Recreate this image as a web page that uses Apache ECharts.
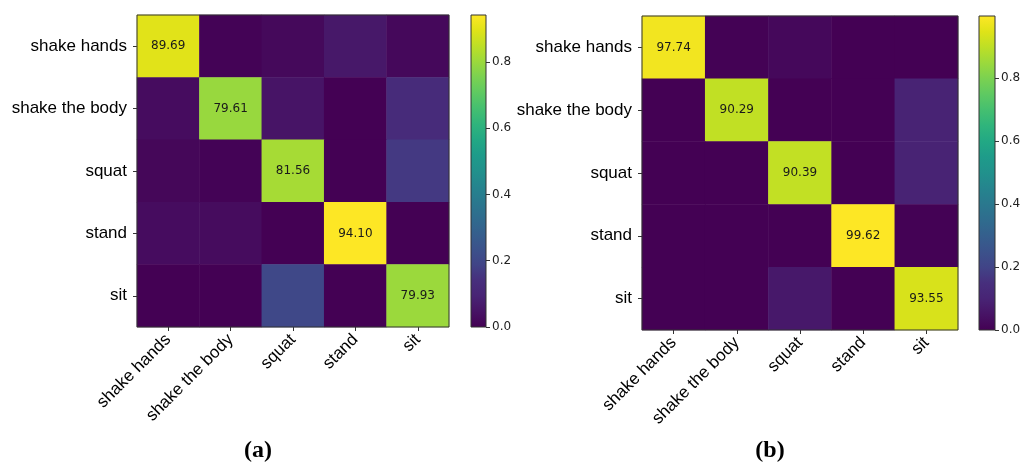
<!DOCTYPE html>
<html>
<head>
<meta charset="utf-8">
<title>Confusion matrices</title>
<script src="https://cdn.jsdelivr.net/npm/echarts@6/dist/echarts.min.js"></script>
<style>
  html, body { margin: 0; padding: 0; background: #fff; }
  #chart { width: 1024px; height: 464px; }
</style>
</head>
<body>
<div id="chart"></div>
<script>
// Class names (rows: true class, columns: predicted class)
const categories = ['shake hands', 'shake the body', 'squat', 'stand', 'sit'];

// (a) normalised confusion matrix
const matrixA = [
  [0.8969, 0.005, 0.020, 0.060, 0.0181],
  [0.030, 0.7961, 0.050, 0.000, 0.1239],
  [0.015, 0.005, 0.8156, 0.000, 0.1644],
  [0.030, 0.029, 0.000, 0.9410, 0.000],
  [0.000, 0.000, 0.2007, 0.000, 0.7993]
];

// (b) normalised confusion matrix
const matrixB = [
  [0.9774, 0.002, 0.0206, 0.000, 0.000],
  [0.000, 0.9029, 0.000, 0.000, 0.0971],
  [0.000, 0.000, 0.9039, 0.000, 0.0961],
  [0.000, 0.000, 0.000, 0.9962, 0.0038],
  [0.000, 0.000, 0.0645, 0.000, 0.9355]
];

const panelLabels = ['(a)', '(b)'];
const colorbarTicks = [0, 0.2, 0.4, 0.6, 0.8];

// viridis colour map, sampled every 0.05
const viridis = [
  '#440154', '#471365', '#482475', '#472f7d', '#414487', '#3b528b', '#355f8d',
  '#2f6c8e', '#2a788e', '#25848e', '#21918c', '#1e9b8a', '#22a884', '#2fb47c',
  '#44bf70', '#5ec962', '#7ad151', '#9bd93c', '#bddf26', '#dfe318', '#fde725'
];

function toCells(m) {
  const out = [];
  m.forEach((row, r) => row.forEach((v, c) => out.push([c, r, v])));
  return out;
}
function maxOf(m) { return Math.max.apply(null, m.flat()); }

const maxA = maxOf(matrixA);
const maxB = maxOf(matrixB);

const gradient = new echarts.graphic.LinearGradient(0, 1, 0, 0,
  viridis.map((c, i) => ({ offset: i / (viridis.length - 1), color: c })));

const labelFont = 'Liberation Sans, Arial, sans-serif';
const smallFont = 'DejaVu Sans, sans-serif';
const frame = { show: true, borderColor: '#333', borderWidth: 1, backgroundColor: 'transparent', z: 5 };

const layout = [
  { heat: { left: 137, top: 15, width: 312, height: 312 }, bar: { left: 471, top: 15, width: 15, height: 312 }, title: [258, 451] },
  { heat: { left: 642, top: 16, width: 316, height: 314 }, bar: { left: 979, top: 16, width: 16, height: 314 }, title: [770, 451] }
];

const grids = [], xAxes = [], yAxes = [], series = [], visualMaps = [], graphics = [];

[matrixA, matrixB].forEach((m, k) => {
  const vmax = k === 0 ? maxA : maxB;
  const gh = grids.length;
  grids.push(Object.assign({}, frame, layout[k].heat));
  const gb = grids.length;
  grids.push(Object.assign({}, frame, layout[k].bar));

  // heatmap axes
  xAxes.push({
    type: 'category', gridIndex: gh, data: categories, position: 'bottom',
    axisLine: { show: false },
    axisTick: { show: true, alignWithLabel: true, length: 4, lineStyle: { color: '#333' } },
    axisLabel: { rotate: 45, margin: 10, fontSize: 17, color: '#000', fontFamily: labelFont, interval: 0 },
    splitArea: { show: false }, splitLine: { show: false }
  });
  yAxes.push({
    type: 'category', gridIndex: gh, data: categories, inverse: true,
    axisLine: { show: false },
    axisTick: { show: true, alignWithLabel: true, length: 4, lineStyle: { color: '#333' } },
    axisLabel: { margin: 10, fontSize: 17, color: '#000', fontFamily: labelFont, interval: 0 },
    splitArea: { show: false }, splitLine: { show: false }
  });

  // colour bar axes
  xAxes.push({
    type: 'category', gridIndex: gb, data: [''],
    axisLine: { show: false }, axisTick: { show: false }, axisLabel: { show: false }
  });
  yAxes.push({
    type: 'value', gridIndex: gb, position: 'right', min: 0, max: vmax, interval: 0.2,
    axisLine: { show: false },
    axisTick: { show: true, length: 4, lineStyle: { color: '#333' } },
    axisLabel: {
      margin: 6, fontSize: 12, color: '#222', fontFamily: smallFont, showMaxLabel: false,
      formatter: v => colorbarTicks.some(t => Math.abs(t - v) < 1e-9) ? v.toFixed(1) : ''
    },
    splitLine: { show: false }
  });

  const si = series.length;
  series.push({
    type: 'heatmap',
    xAxisIndex: xAxes.length - 2, yAxisIndex: yAxes.length - 2,
    data: toCells(m),
    itemStyle: { borderWidth: 0 },
    emphasis: { disabled: true },
    label: {
      show: true, fontSize: 12, color: '#1a1a1a', fontFamily: smallFont,
      formatter: p => p.data[0] === p.data[1] ? (p.data[2] * 100).toFixed(2) : ''
    },
    silent: true
  });
  series.push({
    type: 'bar',
    xAxisIndex: xAxes.length - 1, yAxisIndex: yAxes.length - 1,
    data: [vmax], barWidth: '100%',
    itemStyle: { color: gradient },
    silent: true
  });

  visualMaps.push({
    type: 'continuous', show: false, min: 0, max: vmax, dimension: 2,
    seriesIndex: si, inRange: { color: viridis }
  });

  graphics.push({
    type: 'text', x: layout[k].title[0], y: layout[k].title[1],
    style: {
      text: panelLabels[k], fontSize: 24, fontWeight: 'bold', fill: '#000',
      fontFamily: 'Liberation Serif, DejaVu Serif, serif',
      textAlign: 'center', textVerticalAlign: 'middle'
    }
  });
});

const chart = echarts.init(document.getElementById('chart'), null, { renderer: 'canvas' });
chart.setOption({
  animation: false,
  grid: grids,
  xAxis: xAxes,
  yAxis: yAxes,
  visualMap: visualMaps,
  series: series,
  graphic: graphics
});
</script>
</body>
</html>
